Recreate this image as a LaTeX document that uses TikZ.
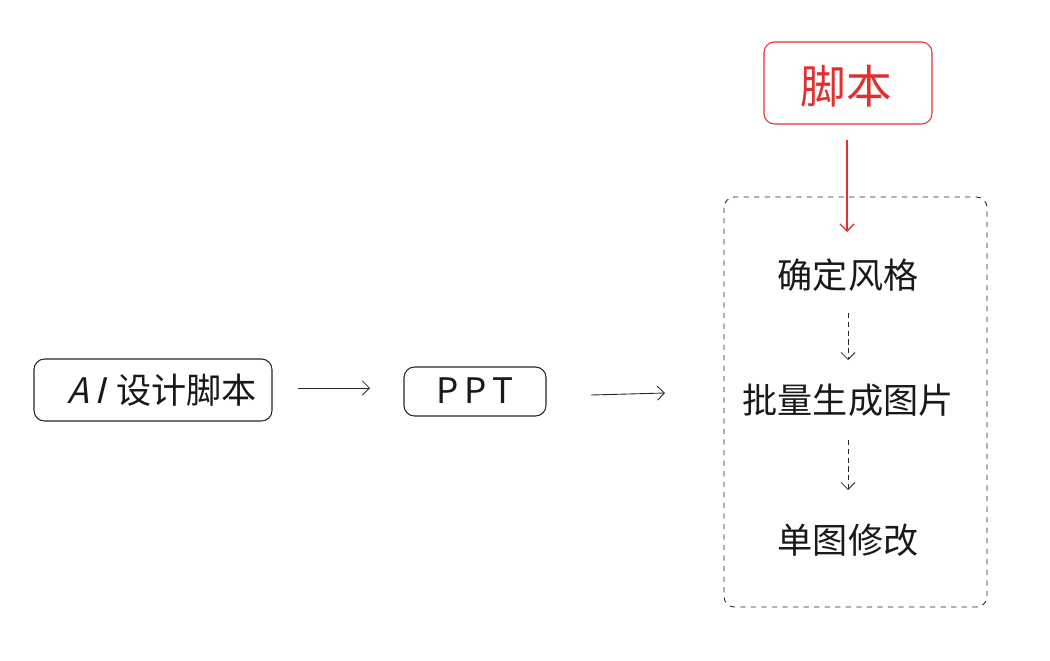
\documentclass[tikz,border=0pt]{standalone}
\usepackage{fontspec}
\newfontfamily\cjk{Noto Sans CJK SC}
\newfontfamily\cjkslant[FakeSlant=0.25]{Noto Sans CJK SC}
\usetikzlibrary{arrows.meta}
\definecolor{myred}{HTML}{E03131}
\begin{document}
\begin{tikzpicture}[x=0.02cm,y=-0.02cm,
  box/.style={draw=black!85,rounded corners=6pt,line width=0.6pt},
  lbl/.style={font=\cjk\fontsize{20}{22}\selectfont,text=black!90},
  arr/.style={-{Straight Barb[length=4pt]},line width=0.5pt,black!85}]
\useasboundingbox (0,0) rectangle (1050,660);
\draw[box] (34,359) rectangle (272,421);
\node[lbl] (ai) at (162,390) {{\cjkslant A\,I}\,\,设计脚本};
\draw[box] (404,367) rectangle (546,416);
\node[lbl] (ppt) at (475,391) {P\,P\,T};
\draw[box,draw=myred] (764,42) rectangle (932,124);
\node[font=\cjk\fontsize{26}{28}\selectfont,text=myred] (js) at (846,86) {脚本};
\draw[box,dashed,line width=0.5pt] (724,197) rectangle (987,607);
\node[lbl] (fg) at (848,275) {确定风格};
\node[lbl] (pl) at (848,400) {批量生成图片};
\node[lbl] (dt) at (848,540) {单图修改};
\coordinate (a1) at (298,388); \coordinate (a2) at (370,388);
\coordinate (b1) at (591,395); \coordinate (b2) at (665,393);
\coordinate (r1) at (847,140); \coordinate (r2) at (847,232);
\coordinate (d1) at (848,313); \coordinate (d2) at (848,360);
\coordinate (e1) at (848,440); \coordinate (e2) at (848,490);
\draw[arr] (a1) -- (a2);
\draw[arr] (b1) -- (b2);
\draw[arr,myred,line width=0.8pt] (r1) -- (r2);
\draw[arr,densely dashed] (d1) -- (d2);
\draw[arr,densely dashed] (e1) -- (e2);
\end{tikzpicture}
\end{document}
